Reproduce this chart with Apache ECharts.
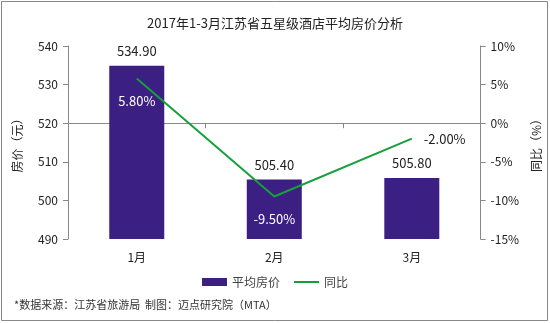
<!DOCTYPE html>
<html><head><meta charset="utf-8">
<script src="https://cdn.jsdelivr.net/npm/echarts@6/dist/echarts.min.js"></script>
<style>html,body{margin:0;padding:0;background:#fff}#c{width:550px;height:323px}</style>
</head><body><div id="c"></div>
<script>
const categories = ['1月', '2月', '3月'];
const avgPrice = [534.90, 505.40, 505.80];
const yoy = [5.80, -9.50, -2.00];
const leftTicks = [490, 540, 10];
const rightTicks = [-15, 10, 5];

const F = '"Noto Sans CJK SC", "Noto Sans", sans-serif';
const chart = echarts.init(document.getElementById('c'), null, {renderer: 'canvas'});
const lineLabelPos = ['bottom', 'bottom', 'right'];
const lineLabelColor = ['#fff', '#fff', '#222'];
chart.setOption({
  animation: false,
  textStyle: {fontFamily: F},
  title: {text: '2017年1-3月江苏省五星级酒店平均房价分析', left: 'center', top: 12,
    textStyle: {fontFamily: F, fontSize: 13, fontWeight: 'normal', color: '#222'}},
  graphic: [
    {type: 'rect', shape: {x: 1.5, y: 1.5, width: 546, height: 319}, style: {fill: 'none', stroke: '#888', lineWidth: 1}, z: -1},
    {type: 'text', left: 14, top: 299, style: {text: '*数据来源：江苏省旅游局  制图：迈点研究院（MTA）', fill: '#333', font: '11px ' + F}}
  ],
  legend: {bottom: 30, left: 'center', itemWidth: 25, itemHeight: 8, itemGap: 14,
    textStyle: {fontFamily: F, fontSize: 12, color: '#444'},
    data: [{name: '平均房价', icon: 'rect'}, {name: '同比', icon: 'path://M0,0 L25,0 L25,2 L0,2 Z'}]},
  grid: {left: 68, right: 66, top: 46, bottom: 84},
  xAxis: {type: 'category', data: categories,
    axisLine: {lineStyle: {color: '#888'}},
    axisTick: {show: true, length: 5, lineStyle: {color: '#888'}},
    axisLabel: {color: '#222', fontSize: 12, margin: 12, fontFamily: F}},
  yAxis: [
    {type: 'value', min: leftTicks[0], max: leftTicks[1], interval: leftTicks[2],
      name: '房价（元）', nameLocation: 'middle', nameGap: 45, nameRotate: 90,
      nameTextStyle: {color: '#222', fontSize: 12, fontFamily: F},
      axisLine: {show: true, lineStyle: {color: '#888'}},
      axisTick: {show: true, length: 5, lineStyle: {color: '#888'}},
      splitLine: {show: false},
      axisLabel: {color: '#222', fontSize: 12, margin: 10, fontFamily: F}},
    {type: 'value', min: rightTicks[0], max: rightTicks[1], interval: rightTicks[2],
      name: '同比（%）', nameLocation: 'middle', nameGap: 47, nameRotate: 90,
      nameTextStyle: {color: '#222', fontSize: 12, fontFamily: F},
      axisLine: {show: true, lineStyle: {color: '#888'}},
      axisTick: {show: true, length: 5, lineStyle: {color: '#888'}},
      splitLine: {show: false},
      axisLabel: {color: '#222', fontSize: 12, margin: 10, fontFamily: F, formatter: '{value}%'}}
  ],
  series: [
    {name: '平均房价', type: 'bar', barWidth: 55, yAxisIndex: 0,
      itemStyle: {color: '#3B1F82'},
      label: {show: true, position: 'top', distance: 8, color: '#222', fontSize: 13, fontFamily: F,
        formatter: p => p.value.toFixed(2)},
      data: avgPrice},
    {name: '同比', type: 'line', yAxisIndex: 1, symbol: 'circle', symbolSize: 0.1, showSymbol: true,
      lineStyle: {color: '#15A03A', width: 2}, itemStyle: {color: '#15A03A'},
      data: yoy.map((v, i) => ({value: v, label: {show: true, position: lineLabelPos[i],
        distance: lineLabelPos[i] === 'right' ? 12 : 16, color: lineLabelColor[i], fontSize: 13, fontFamily: F,
        formatter: p => p.value.toFixed(2) + '%'}}))}
  ]
});
</script></body></html>
